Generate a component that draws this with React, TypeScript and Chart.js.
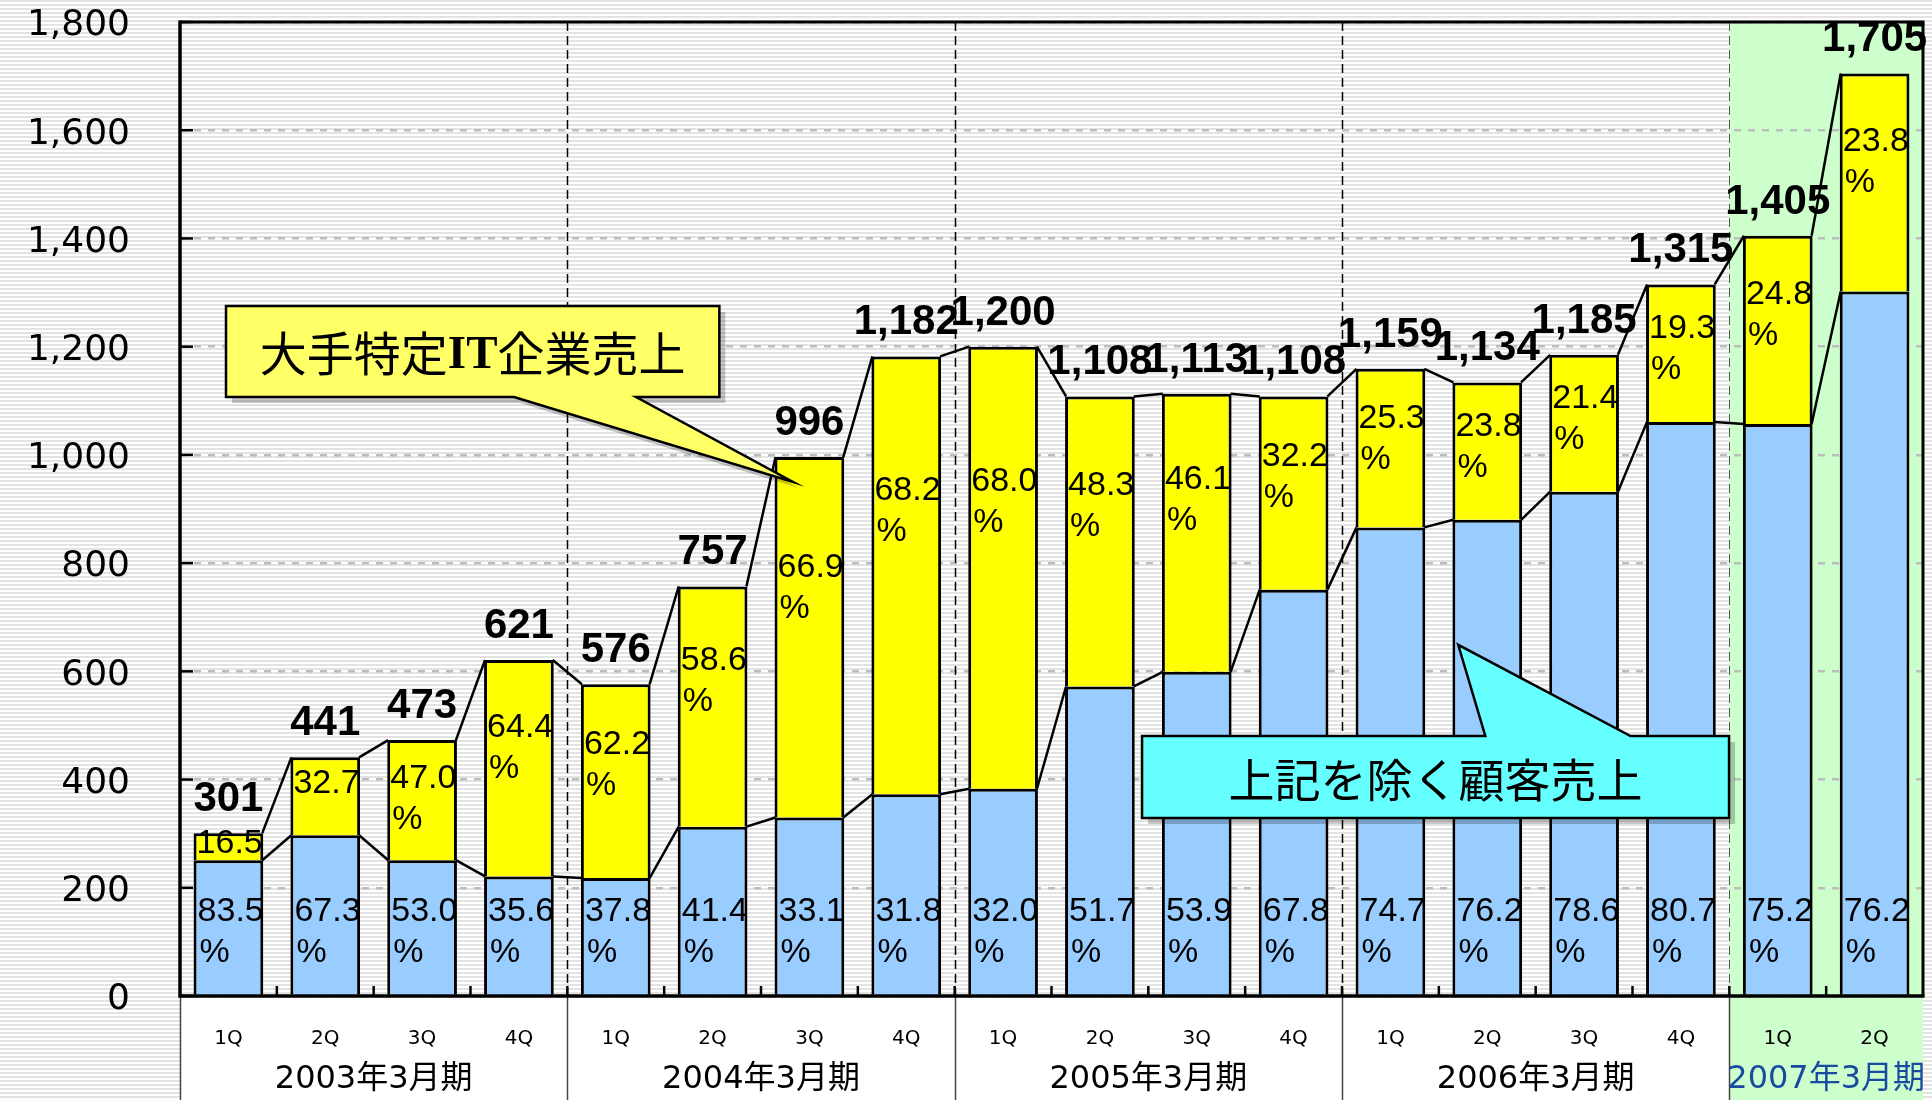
import { useEffect, useRef } from 'react';
import { Chart, registerables } from 'chart.js';

Chart.register(...registerables);

const W = 1932;
const H = 1100;

// ---- data ----
const quarterLabels = ['1Q', '2Q', '3Q', '4Q', '1Q', '2Q', '3Q', '4Q', '1Q', '2Q', '3Q', '4Q', '1Q', '2Q', '3Q', '4Q', '1Q', '2Q'];
const fiscalYears = ['2003年3月期', '2004年3月期', '2005年3月期', '2006年3月期', '2007年3月期'];
const quartersInYear = [4, 4, 4, 4, 2];
const totalSales = [301, 441, 473, 621, 576, 757, 996, 1182, 1200, 1108, 1113, 1108, 1159, 1134, 1185, 1315, 1405, 1705];
const otherSales = [251, 297, 251, 221, 218, 313, 330, 373, 383, 572, 599, 751, 866, 880, 932, 1061, 1057, 1302];
const itSales = [50, 144, 222, 400, 358, 444, 666, 809, 817, 536, 514, 357, 293, 254, 253, 254, 348, 403];
const itShare = ['16.5', '32.7', '47.0', '64.4', '62.2', '58.6', '66.9', '68.2', '68.0', '48.3', '46.1', '32.2', '25.3', '23.8', '21.4', '19.3', '24.8', '23.8'];
const otherShare = ['83.5', '67.3', '53.0', '35.6', '37.8', '41.4', '33.1', '31.8', '32.0', '51.7', '53.9', '67.8', '74.7', '76.2', '78.6', '80.7', '75.2', '76.2'];
const yMax = 1800;
const yStep = 200;
const itCalloutText = ['大手特定', 'IT', '企業売上'];
const otherCalloutText = '上記を除く顧客売上';

const SANS = "'DejaVu Sans', 'Noto Sans CJK JP', sans-serif";
const ARIAL = "'Liberation Sans', Arial, sans-serif";
const CJK = "'Noto Sans CJK JP', sans-serif";

const fmt = (n: number) => String(n).replace(/\B(?=(\d{3})+(?!\d))/g, ',');

function callout(ctx: any, pts: number[][], fill: string) {
  ctx.save();
  ctx.beginPath();
  pts.forEach((p, i) => (i === 0 ? ctx.moveTo(p[0] + 6, p[1] + 6) : ctx.lineTo(p[0] + 6, p[1] + 6)));
  ctx.closePath();
  ctx.fillStyle = 'rgba(0,0,0,0.22)';
  ctx.fill();
  ctx.beginPath();
  pts.forEach((p, i) => (i === 0 ? ctx.moveTo(p[0], p[1]) : ctx.lineTo(p[0], p[1])));
  ctx.closePath();
  ctx.fillStyle = fill;
  ctx.fill();
  ctx.strokeStyle = '#000';
  ctx.lineWidth = 2.5;
  ctx.lineJoin = 'miter';
  ctx.stroke();
  ctx.restore();
}

const decorPlugin = {
  id: 'decor',
  beforeDraw(chart: any) {
    const { ctx, chartArea: ca, scales } = chart;
    const xs = scales.x;
    const catW = xs.getPixelForValue(1) - xs.getPixelForValue(0);
    ctx.save();
    ctx.fillStyle = '#ffffff';
    ctx.fillRect(0, 0, W, H);
    ctx.fillStyle = '#e3e3e3';
    for (let yy = 0; yy < H; yy += 4) ctx.fillRect(0, yy, W, 2);
    ctx.fillStyle = '#ffffff';
    ctx.fillRect(ca.left, ca.bottom, ca.right - ca.left, H - ca.bottom);
    const firstIdx = quartersInYear.slice(0, -1).reduce((a, b) => a + b, 0);
    const gx = xs.getPixelForValue(firstIdx) - catW / 2;
    ctx.fillStyle = '#ccffcc';
    ctx.fillRect(gx, ca.top, ca.right - gx, H - ca.top);
    ctx.restore();
  },
  beforeDatasetsDraw(chart: any) {
    const { ctx, chartArea: ca, scales } = chart;
    const xs = scales.x;
    const catW = xs.getPixelForValue(1) - xs.getPixelForValue(0);
    ctx.save();
    let idx = 0;
    for (let k = 0; k < quartersInYear.length - 1; k++) {
      idx += quartersInYear[k];
      const sx = Math.round(xs.getPixelForValue(idx) - catW / 2) + 0.5;
      ctx.strokeStyle = k === quartersInYear.length - 2 ? '#555' : '#000';
      ctx.lineWidth = k === quartersInYear.length - 2 ? 1 : 1.5;
      ctx.setLineDash([9, 5]);
      ctx.beginPath();
      ctx.moveTo(sx, ca.top);
      ctx.lineTo(sx, ca.bottom);
      ctx.stroke();
      ctx.setLineDash([]);
      ctx.strokeStyle = '#444';
      ctx.lineWidth = 1.5;
      ctx.beginPath();
      ctx.moveTo(sx, ca.bottom);
      ctx.lineTo(sx, H);
      ctx.stroke();
    }
    ctx.strokeStyle = '#444';
    ctx.lineWidth = 1.5;
    ctx.beginPath();
    ctx.moveTo(ca.left + 0.5, ca.bottom);
    ctx.lineTo(ca.left + 0.5, H);
    ctx.stroke();
    ctx.restore();
  },
  afterDatasetDraw(chart: any, args: any) {
    if (args.index !== 1) return;
    const { ctx } = chart;
    const meta = chart.getDatasetMeta(1);
    ctx.save();
    ctx.font = `34px ${ARIAL}`;
    ctx.fillStyle = '#000';
    ctx.textAlign = 'left';
    ctx.textBaseline = 'alphabetic';
    meta.data.forEach((bar: any, i: number) => {
      const top = bar.y;
      const bottom = bar.base;
      const h = bottom - top;
      const left = bar.x - bar.width / 2 + 3;
      const b1 = top + 0.3 * h + 12;
      ctx.fillText(itShare[i], left, b1);
      const b2 = b1 + 41;
      if (b2 + 8 < bottom) ctx.fillText('%', left + 2, b2);
    });
    ctx.restore();
  },
  afterDatasetsDraw(chart: any) {
    const { ctx, chartArea: ca, scales } = chart;
    const xs = scales.x;
    const ys = scales.y;
    const catW = xs.getPixelForValue(1) - xs.getPixelForValue(0);
    const bMeta = chart.getDatasetMeta(0);
    const yMeta = chart.getDatasetMeta(1);
    ctx.save();
    // series connector lines
    ctx.strokeStyle = '#000';
    ctx.lineWidth = 2.5;
    [bMeta, yMeta].forEach((meta: any) => {
      for (let i = 0; i < meta.data.length - 1; i++) {
        const a = meta.data[i];
        const b = meta.data[i + 1];
        ctx.beginPath();
        ctx.moveTo(a.x + a.width / 2 - 1, a.y);
        ctx.lineTo(b.x - b.width / 2 + 1, b.y);
        ctx.stroke();
      }
    });
    // blue share labels
    ctx.font = `34px ${ARIAL}`;
    ctx.fillStyle = '#000';
    ctx.textAlign = 'left';
    ctx.textBaseline = 'alphabetic';
    bMeta.data.forEach((bar: any, i: number) => {
      const left = bar.x - bar.width / 2 + 4;
      ctx.fillText(otherShare[i], left, bar.base - 74);
      ctx.fillText('%', left + 2, bar.base - 33);
    });
    // totals
    ctx.font = `bold 42px ${ARIAL}`;
    ctx.textAlign = 'center';
    yMeta.data.forEach((bar: any, i: number) => {
      ctx.fillText(fmt(totalSales[i]), bar.x, bar.y - 22);
    });
    // frame
    ctx.strokeStyle = '#000';
    ctx.lineWidth = 3;
    ctx.beginPath();
    ctx.moveTo(ca.left, ca.top);
    ctx.lineTo(ca.right, ca.top);
    ctx.lineTo(ca.right, ca.bottom);
    ctx.stroke();
    ctx.lineWidth = 3.5;
    ctx.beginPath();
    ctx.moveTo(ca.left, ca.top - 1.5);
    ctx.lineTo(ca.left, ca.bottom);
    ctx.lineTo(ca.right + 1.5, ca.bottom);
    ctx.stroke();
    // y tick marks (inside)
    ctx.lineWidth = 2.5;
    ys.ticks.forEach((t: any) => {
      const py = ys.getPixelForValue(t.value);
      ctx.beginPath();
      ctx.moveTo(ca.left, py);
      ctx.lineTo(ca.left + 13, py);
      ctx.stroke();
    });
    // x category boundary tick marks (inside)
    for (let i = 1; i < quarterLabels.length; i++) {
      const px = xs.getPixelForValue(i) - catW / 2;
      ctx.beginPath();
      ctx.moveTo(px, ca.bottom);
      ctx.lineTo(px, ca.bottom - 10);
      ctx.stroke();
    }
    ctx.restore();
  },
  afterDraw(chart: any) {
    const { ctx, chartArea: ca, scales } = chart;
    const xs = scales.x;
    const ys = scales.y;
    const catW = xs.getPixelForValue(1) - xs.getPixelForValue(0);
    ctx.save();
    // y tick labels
    ctx.fillStyle = '#000';
    ctx.textAlign = 'right';
    ctx.textBaseline = 'middle';
    ctx.font = `36px ${SANS}`;
    ys.ticks.forEach((t: any) => {
      ctx.fillText(fmt(t.value), ca.left - 50, ys.getPixelForValue(t.value) + 4);
    });
    // quarter labels
    ctx.textAlign = 'center';
    ctx.font = `20px ${SANS}`;
    quarterLabels.forEach((q, i) => ctx.fillText(q, xs.getPixelForValue(i), ca.bottom + 43));
    // fiscal year labels
    ctx.font = `32px ${SANS}`;
    let idx = 0;
    fiscalYears.forEach((fy, k) => {
      const n = quartersInYear[k];
      const cx = (xs.getPixelForValue(idx) + xs.getPixelForValue(idx + n - 1)) / 2;
      ctx.fillStyle = k === fiscalYears.length - 1 ? '#1a4aa0' : '#000';
      ctx.fillText(fy, cx, ca.bottom + 84);
      idx += n;
    });
    // callouts, positioned in category / value units
    const X = (u: number) => xs.getPixelForValue(0) + u * catW;
    const Y = (v: number) => ys.getPixelForValue(v);
    const yl = X(-0.025), yr = X(5.07), yt = Y(1275), yb = Y(1107);
    callout(ctx, [
      [yl, yt], [yr, yt], [yr, yb], [X(4.21), yb], [X(5.83), Y(950)], [X(2.95), yb], [yl, yb],
    ], '#ffff66');
    const f1 = `47px ${CJK}`;
    const f2 = `bold 47px 'Liberation Serif', serif`;
    ctx.font = f1;
    const w0 = ctx.measureText(itCalloutText[0]).width;
    const w2 = ctx.measureText(itCalloutText[2]).width;
    ctx.font = f2;
    const w1 = ctx.measureText(itCalloutText[1]).width;
    let tx = (yl + yr) / 2 - (w0 + w1 + w2) / 2;
    const ty = (yt + yb) / 2 + 2;
    ctx.fillStyle = '#000';
    ctx.textAlign = 'left';
    ctx.textBaseline = 'middle';
    ctx.font = f1;
    ctx.fillText(itCalloutText[0], tx, ty);
    tx += w0;
    ctx.font = f2;
    ctx.fillText(itCalloutText[1], tx, ty + 2);
    tx += w1;
    ctx.font = f1;
    ctx.fillText(itCalloutText[2], tx, ty);

    const cl = X(9.435), cr = X(15.497), ct = Y(480.5), cb = Y(329);
    callout(ctx, [
      [cl, ct], [X(12.98), ct], [X(12.7), Y(649)], [X(14.48), ct], [cr, ct], [cr, cb], [cl, cb],
    ], '#66ffff');
    ctx.font = `46px ${CJK}`;
    ctx.textAlign = 'center';
    ctx.fillStyle = '#000';
    ctx.fillText(otherCalloutText, (cl + cr) / 2, (ct + cb) / 2 + 3);
    ctx.restore();
  },
};

export default function App() {
  const ref = useRef<HTMLCanvasElement>(null);
  useEffect(() => {
    const canvas = ref.current;
    if (!canvas) return;
    const chart = new Chart(canvas, {
      type: 'bar',
      data: {
        labels: quarterLabels,
        datasets: [
          {
            label: '上記を除く顧客売上',
            data: otherSales,
            backgroundColor: '#99ccff',
            borderColor: '#000',
            borderWidth: 3,
            borderSkipped: 'bottom',
            barPercentage: 0.72,
            categoryPercentage: 1,
          },
          {
            label: '大手特定IT企業売上',
            data: itSales,
            backgroundColor: '#ffff00',
            borderColor: '#000',
            borderWidth: 3,
            borderSkipped: 'bottom',
            barPercentage: 0.72,
            categoryPercentage: 1,
          },
        ],
      },
      options: {
        responsive: false,
        animation: false,
        devicePixelRatio: 1,
        layout: { padding: { top: 22, right: 9, left: 0, bottom: 0 } },
        plugins: { legend: { display: false }, tooltip: { enabled: false } },
        scales: {
          x: {
            stacked: true,
            grid: { display: false },
            border: { display: false },
            ticks: { display: false },
            afterFit: (s: any) => {
              s.height = 104;
            },
          },
          y: {
            stacked: true,
            min: 0,
            max: yMax,
            ticks: { stepSize: yStep, display: false },
            grid: { color: '#bdbdbd', lineWidth: 2.5, drawTicks: false },
            border: { display: false, dash: [7, 7] },
            afterFit: (s: any) => {
              s.width = 180;
            },
          },
        },
      } as any,
      plugins: [decorPlugin],
    });
    return () => chart.destroy();
  }, []);
  return (
    <div style={{ position: 'absolute', left: 0, top: 0, width: W, height: H }}>
      <canvas ref={ref} width={W} height={H} style={{ display: 'block', width: W, height: H }} />
    </div>
  );
}
